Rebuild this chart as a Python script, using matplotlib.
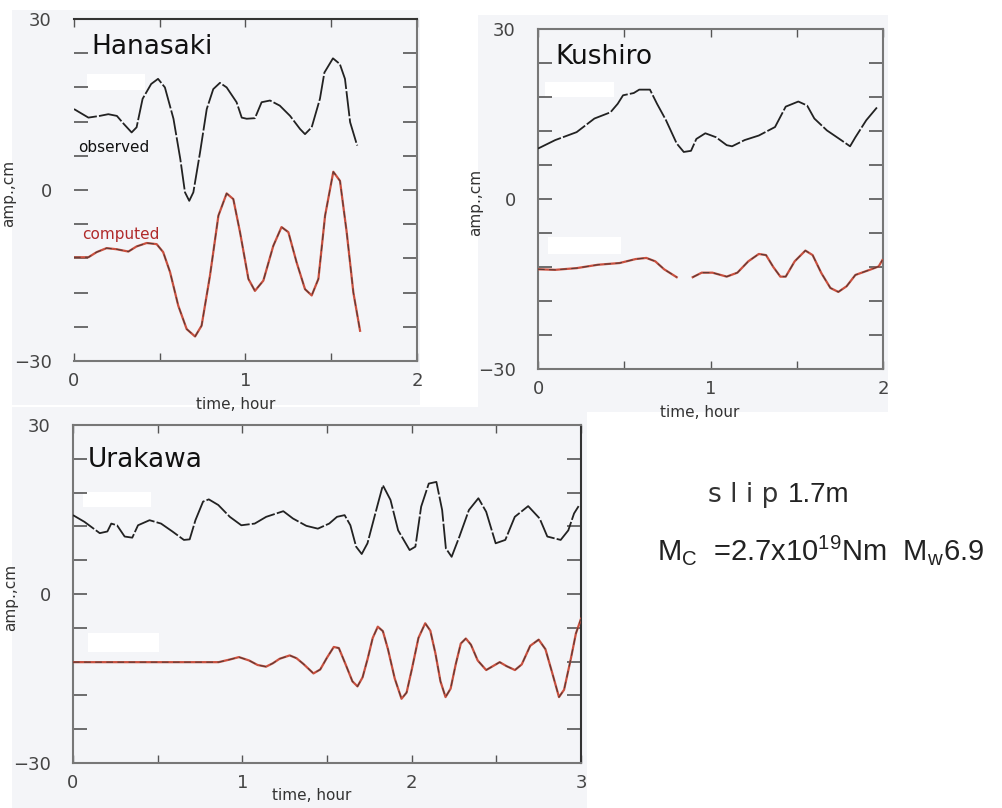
import numpy as np
import matplotlib
matplotlib.use("Agg")
import matplotlib.pyplot as plt
from matplotlib.patches import Rectangle
from matplotlib.ticker import MultipleLocator, FixedLocator

plt.rcParams['mathtext.fontset'] = 'custom'
plt.rcParams['mathtext.rm'] = 'Liberation Sans'
plt.rcParams['mathtext.it'] = 'Liberation Sans'

nan = np.nan

# Hanasaki (time in hours, amplitude in cm, traces already offset)
han_obs_t = [0, 0.084, 0.15, 0.2, 0.25, 0.29, 0.336, 0.365, 0.40, 0.45, 0.49, 0.53, 0.58, 0.62,
             0.647, 0.672, 0.696, 0.735, 0.774, 0.812, 0.851, 0.89, 0.948, 0.978, 1.007, 1.055,
             1.094, 1.143, 1.2, 1.26, 1.318, 1.347, 1.386, 1.434, 1.46, 1.51, 1.55, 1.58, 1.61,
             1.648, 1.652]
han_obs_a = [14.2, 12.7, 13.0, 13.3, 13.0, 11.6, 10.1, 11.0, 16.0, 18.6, 19.5, 18.0, 12.5, 5.4,
             -0.4, -1.9, -0.4, 6.6, 14.2, 17.7, 18.8, 18.0, 15.4, 12.7, 12.5, 12.6,
             15.4, 15.7, 14.8, 13.0, 10.7, 9.8, 11.0, 16.0, 20.6, 23.1, 22.1, 19.5, 11.9,
             8.1, 7.8]
han_cal_t = [0, 0.084, 0.132, 0.19, 0.25, 0.317, 0.365, 0.424, 0.482, 0.52, 0.56, 0.608, 0.657,
             0.706, 0.744, 0.793, 0.842, 0.89, 0.929, 0.968, 1.017, 1.055, 1.104, 1.162, 1.21,
             1.25, 1.298, 1.347, 1.386, 1.425, 1.464, 1.512, 1.551, 1.59, 1.629, 1.668]
han_cal_a = [-11.8, -11.8, -10.9, -10.2, -10.4, -10.8, -9.9, -9.3, -9.5, -10.9, -14.4, -20.3, -24.4,
             -25.7, -23.8, -15.0, -4.5, -0.6, -1.6, -7.4, -15.6, -17.7, -15.9, -9.8, -6.5,
             -7.4, -12.7, -17.4, -18.5, -15.6, -4.5, 3.2, 1.6, -7.4, -18.0, -24.7]

# Kushiro
kus_obs_t = [0, 0.1, 0.224, 0.327, 0.42, 0.462, 0.493, 0.555, 0.587, 0.649, 0.69, 0.742, 0.804,
             0.845, 0.887, 0.918, 0.97, 1.032, 1.094, 1.125, 1.198, 1.28, 1.374, 1.405, 1.436,
             1.509, 1.56, 1.602, 1.675, 1.757, 1.809, 1.84, 1.903, 1.969]
kus_obs_a = [8.9, 10.4, 11.8, 14.2, 15.3, 16.8, 18.3, 18.7, 19.3, 19.3, 16.8, 13.9, 9.8,
             8.3, 8.5, 10.6, 11.6, 10.9, 9.5, 9.3, 10.4, 11.2, 12.7, 14.5, 16.3,
             17.2, 16.5, 14.2, 12.1, 10.4, 9.3, 10.9, 13.9, 16.3]
kus_cal_t = [0, 0.1, 0.224, 0.348, 0.473, 0.566, 0.628, 0.68, 0.731, 0.804, 0.85, 0.897, 0.949,
             1.011, 1.094, 1.156, 1.219, 1.28, 1.322, 1.364, 1.405, 1.436, 1.488, 1.55, 1.592,
             1.643, 1.695, 1.741, 1.789, 1.84, 1.923, 1.975, 1.996]
kus_cal_a = [-12.4, -12.5, -12.2, -11.6, -11.3, -10.6, -10.4, -11.0, -12.4, -13.8, nan, -13.8, -13.0,
             -13.0, -13.7, -13.0, -11.0, -9.7, -9.9, -12.0, -13.7, -13.7, -11.0, -9.1, -9.9,
             -13.1, -15.7, -16.4, -15.4, -13.4, -12.5, -11.9, -10.8]

# Urakawa
ura_obs_t = [0, 0.068, 0.158, 0.203, 0.226, 0.26, 0.305, 0.35, 0.384, 0.452, 0.52, 0.587, 0.655,
             0.689, 0.723, 0.768, 0.802, 0.858, 0.926, 0.994, 1.073, 1.141, 1.242, 1.299, 1.378,
             1.446, 1.513, 1.559, 1.604, 1.638, 1.672, 1.705, 1.739, 1.796, 1.83, 1.875, 1.92,
             1.988, 2.022, 2.056, 2.101, 2.146, 2.18, 2.202, 2.236, 2.282, 2.338, 2.394, 2.44,
             2.496, 2.553, 2.609, 2.688, 2.756, 2.801, 2.88, 2.925, 2.959, 2.986]
ura_obs_a = [14.0, 12.8, 10.8, 11.1, 12.5, 12.2, 10.2, 10.0, 12.2, 13.1, 12.5, 11.1, 9.6,
             9.7, 13.1, 16.4, 16.8, 15.8, 13.7, 12.2, 12.5, 13.7, 14.7, 13.4, 12.1,
             11.6, 12.5, 13.7, 14.0, 12.2, 8.4, 7.1, 9.0, 15.5, 19.3, 16.7, 11.3,
             7.8, 8.4, 15.5, 19.6, 19.9, 14.9, 8.1, 6.6, 10.2, 14.9, 17.0, 14.6,
             9.0, 9.6, 13.7, 15.6, 13.4, 10.2, 9.6, 11.3, 14.3, 15.6]
ura_cal_t = [0, 0.5, 0.86, 0.93, 0.98, 1.04, 1.09, 1.14, 1.18, 1.22, 1.28, 1.32, 1.36, 1.42,
             1.46, 1.50, 1.54, 1.57, 1.61, 1.65, 1.68, 1.71, 1.74, 1.77, 1.80, 1.83, 1.86, 1.90,
             1.94, 1.97, 2.00, 2.04, 2.08, 2.11, 2.14, 2.17, 2.20, 2.23, 2.26, 2.29, 2.32, 2.35,
             2.39, 2.44, 2.48, 2.52, 2.56, 2.61, 2.65, 2.70, 2.75, 2.79, 2.83, 2.87, 2.90, 2.94,
             2.97, 3.0]
ura_cal_a = [-12.1, -12.1, -12.1, -11.6, -11.2, -11.8, -12.6, -12.9, -12.3, -11.5, -10.9, -11.4,
             -12.4, -14.1, -13.4, -11.3, -9.4, -9.6, -12.5, -15.5, -16.4, -14.8, -11.5, -7.8,
             -5.8, -6.6, -9.8, -15.0, -18.6, -17.5, -13.5, -7.8, -5.2, -6.5, -10.5, -15.5,
             -18.3, -16.8, -12.5, -8.8, -7.9, -9.0, -11.8, -13.5, -12.8, -12.1, -12.8, -13.5,
             -12.5, -9.2, -8.1, -9.8, -14.0, -18.3, -17.0, -11.5, -7.0, -4.4]

W, H = 1003, 808
BG = '#f4f5f8'
RED = '#c9503f'

fig = plt.figure(figsize=(W / 100, H / 100), dpi=100)
fig.patch.set_facecolor('white')


def px_box(x0, y0, x1, y1):
    return [x0 / W, 1 - y1 / H, (x1 - x0) / W, (y1 - y0) / H]


# light gray screenshot panels behind each plot
for x0, y0, x1, y1 in [(12, 10, 420, 405), (478, 15, 888, 412), (12, 407, 587, 808)]:
    b = px_box(x0, y0, x1, y1)
    fig.patches.append(Rectangle((b[0], b[1]), b[2], b[3], transform=fig.transFigure,
                                 facecolor=BG, edgecolor='none', zorder=-10))


def make_axes(box, tmax, name, name_xy, xl_y, yl_x, blanks):
    ax = fig.add_axes(px_box(*box))
    ax.set_facecolor(BG)
    ax.set_xlim(0, tmax)
    ax.set_ylim(-30, 30)
    ax.xaxis.set_major_locator(MultipleLocator(1))
    ax.xaxis.set_minor_locator(MultipleLocator(0.5))
    ax.yaxis.set_major_locator(FixedLocator([-30, 0, 30]))
    ax.yaxis.set_minor_locator(MultipleLocator(6))
    ax.set_yticklabels(['\u221230', '0', '30'])
    ax.tick_params(which='both', direction='in', top=True, right=True, color='#555555',
                   labelcolor='#444444', labelsize=13)
    ax.tick_params(axis='y', which='both', length=10, width=1.2, pad=16)
    ax.tick_params(axis='x', which='both', length=6, width=1.0, pad=8)
    for s in ax.spines.values():
        s.set_color('#777777')
        s.set_linewidth(1.5)
    ax.set_xlabel('time, hour', fontsize=11, color='#333333')
    ax.xaxis.set_label_coords(0.47, xl_y)
    ax.set_ylabel('amp.,cm', fontsize=11, color='#333333')
    ax.yaxis.set_label_coords(yl_x, 0.49)
    ax.text(name_xy[0], name_xy[1], name, transform=ax.transAxes, fontsize=19,
            color='#111111', va='center', ha='left')
    for bx0, by0, bx1, by1 in blanks:
        ax.add_patch(Rectangle((bx0, by0), bx1 - bx0, by1 - by0, transform=ax.transAxes,
                               facecolor='white', edgecolor='none', zorder=1))
    return ax


def draw(ax, t_obs, a_obs, t_cal, a_cal):
    ax.plot(t_obs, a_obs, color='#222222', lw=1.3, dashes=(14, 1.2), zorder=3,
            solid_joinstyle='round', dash_joinstyle='round')
    ax.plot(t_cal, a_cal, color=RED, lw=1.6, zorder=3, solid_joinstyle='round')
    ax.plot(t_cal, a_cal, color='#333333', lw=0.8, dashes=(6, 4), alpha=0.75, zorder=4,
            dash_joinstyle='round')


ax1 = make_axes((74, 19, 417, 361), 2, 'Hanasaki', (0.05, 0.918), -0.105, -0.17,
                [(0.038, 0.792, 0.207, 0.839)])
ax1.spines['left'].set_visible(False)
ax1.spines['top'].set_color('#333333')
draw(ax1, han_obs_t, han_obs_a, han_cal_t, han_cal_a)
ax1.text(0.012, 0.623, 'observed', transform=ax1.transAxes, fontsize=11, color='#111111',
         va='center')
ax1.text(0.023, 0.371, 'computed', transform=ax1.transAxes, fontsize=11, color='#b02a2a',
         va='center')

ax2 = make_axes((538, 29, 883, 369), 2, 'Kushiro', (0.05, 0.918), -0.106, -0.158,
                [(0.019, 0.80, 0.221, 0.845), (0.029, 0.337, 0.241, 0.387)])
draw(ax2, kus_obs_t, kus_obs_a, kus_cal_t, kus_cal_a)

ax3 = make_axes((73, 425, 581, 763), 3, 'Urakawa', (0.029, 0.896), -0.075, -0.109,
                [(0.019, 0.757, 0.154, 0.802), (0.029, 0.328, 0.169, 0.385)])
ax3.spines['right'].set_color('#333333')
draw(ax3, ura_obs_t, ura_obs_a, ura_cal_t, ura_cal_a)

# source parameters
fig.text(708 / W, 1 - 495 / H, 's l i p', fontsize=19, color='#333333', va='center')
fig.text(788 / W, 1 - 495 / H, '1.7m', fontsize=20, color='#222222', va='center',
         family='Liberation Sans')
fig.text(657 / W, 1 - 550 / H,
         r'M$_{\mathrm{C}}$  =2.7x10$^{19}$Nm  M$_{\mathrm{w}}$6.9',
         fontsize=21, color='#222222', va='center', family='Liberation Sans')

fig.savefig('out.png', dpi=100, facecolor='white')
